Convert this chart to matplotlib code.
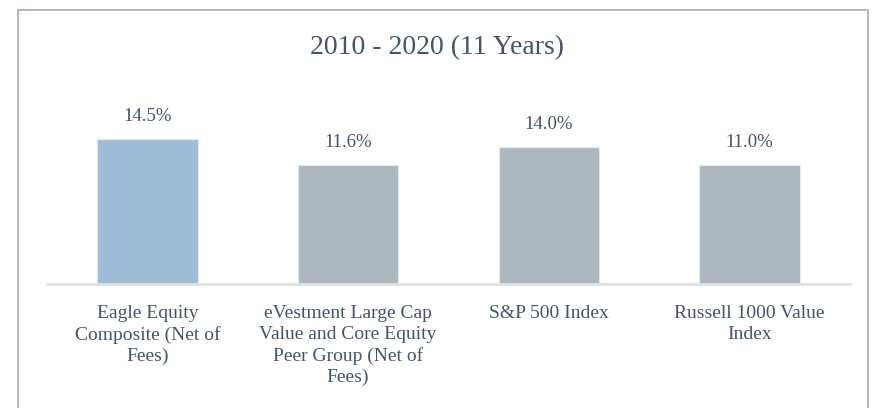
import matplotlib
matplotlib.use("Agg")
import matplotlib.pyplot as plt
from matplotlib.patches import Rectangle

# values; printed labels as shown on the chart
categories = ["Eagle Equity\nComposite (Net of\nFees)",
              "eVestment Large Cap\nValue and Core Equity\nPeer Group (Net of\nFees)",
              "S&P 500 Index",
              "Russell 1000 Value\nIndex"]
values = [14.5, 11.9, 13.7, 11.9]
value_labels = ["14.5%", "11.6%", "14.0%", "11.0%"]
colors = ["#9EBBD8", "#ADB7BF", "#ADB7BF", "#ADB7BF"]

text_color = "#44546A"
plt.rcParams['font.family'] = ['Liberation Serif', 'DejaVu Serif']

fig = plt.figure(figsize=(8.75, 4.08), dpi=100)
ax = fig.add_axes([47 / 875, 1 - 284 / 408, 803 / 875, 184 / 408])

x = range(len(values))
bars = ax.bar(x, values, width=0.5, color=colors, edgecolor="#E4E8EC", linewidth=0.8)
for b, lab in zip(bars, value_labels):
    ax.text(b.get_x() + b.get_width() / 2, b.get_height() + 1.35, lab,
            ha="center", va="bottom", fontsize=13.5, color=text_color)

ax.set_xlim(-0.5, 3.5)
ax.set_ylim(0, 18.4)
ax.set_yticks([])
ax.set_xticks(list(x))
ax.set_xticklabels(categories, fontsize=14, color=text_color, linespacing=1.3)
ax.tick_params(axis="x", length=0, pad=15)
for s in ["top", "right", "left"]:
    ax.spines[s].set_visible(False)
ax.spines["bottom"].set_color("#DDE1E8")
ax.spines["bottom"].set_linewidth(2)

fig.text(0.5, 1 - 48 / 408, "2010 - 2020 (11 Years)", ha="center", va="center",
         fontsize=20, color=text_color)

# outer frame of the chart
fig.patches.append(Rectangle((18 / 875, -0.1), 850 / 875, 1.1 - 10 / 408,
                             transform=fig.transFigure, fill=False,
                             edgecolor="#A9B2BD", linewidth=1.3, clip_on=False))

fig.savefig("out.png", dpi=100)
